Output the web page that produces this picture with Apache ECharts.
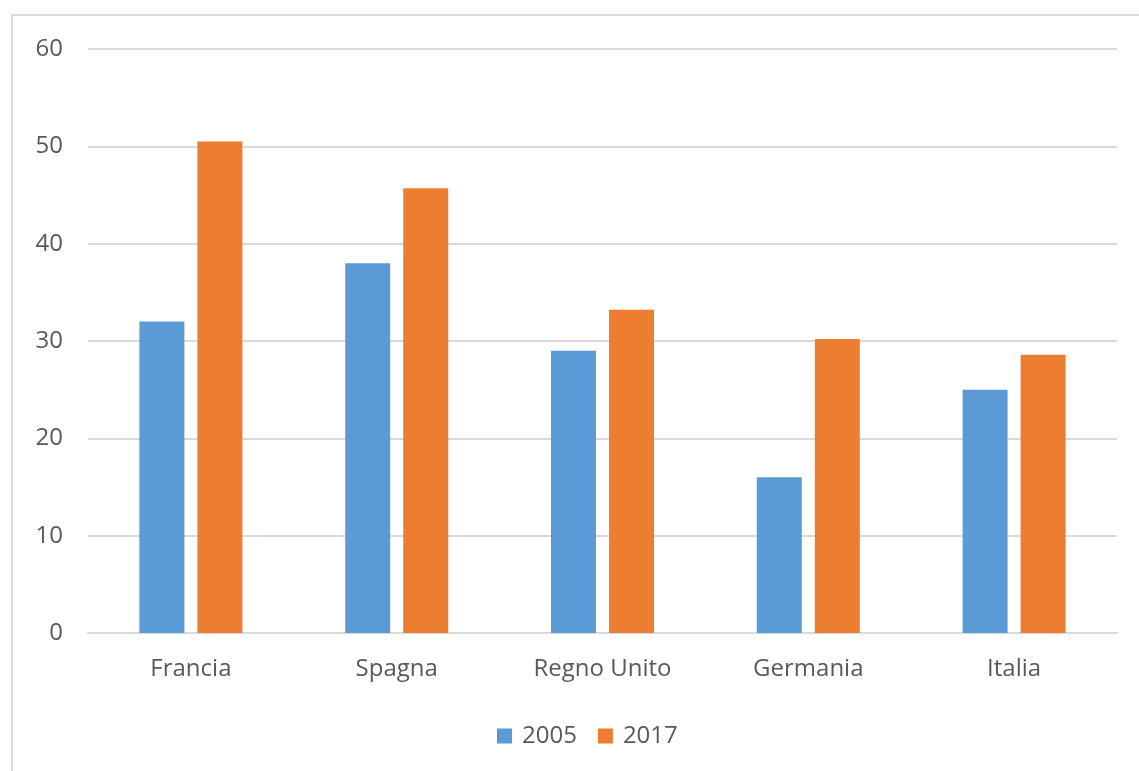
<!DOCTYPE html>
<html><head><meta charset="utf-8">
<script src="https://cdn.jsdelivr.net/npm/echarts@6/dist/echarts.min.js"></script>
<style>html,body{margin:0;padding:0;background:#fff}#c{width:1139px;height:771px}</style>
</head><body><div id="c"></div>
<script>
const categories = ['Francia', 'Spagna', 'Regno Unito', 'Germania', 'Italia'];
const values2005 = [32, 38, 29, 16, 25];
const values2017 = [50.5, 45.7, 33.2, 30.2, 28.6];
const seriesNames = ['2005', '2017'];

const chart = echarts.init(document.getElementById('c'), null, {renderer: 'canvas'});
const font = '"Open Sans", sans-serif';
chart.setOption({
  animation: false,
  backgroundColor: '#fff',
  graphic: [{
    type: 'polyline',
    shape: {points: [[12, 790], [12, 15], [1160, 15]]},
    style: {stroke: '#d9d9d9', lineWidth: 2, fill: null}
  }],
  grid: {left: 88, right: 22, top: 49, bottom: 138, containLabel: false},
  legend: {
    data: seriesNames,
    top: 719,
    left: 492,
    itemWidth: 15, itemHeight: 15, itemGap: 21,
    icon: 'rect',
    textStyle: {fontFamily: font, fontSize: 24, color: '#595959', padding: [0, 0, 0, 5]}
  },
  xAxis: {
    type: 'category',
    data: categories,
    axisTick: {show: false},
    axisLine: {lineStyle: {color: '#d9d9d9', width: 2}},
    axisLabel: {fontFamily: font, fontSize: 24, color: '#595959', margin: 24}
  },
  yAxis: {
    type: 'value',
    min: 0, max: 60, interval: 10,
    axisLine: {show: false},
    axisTick: {show: false},
    splitLine: {lineStyle: {color: '#d9d9d9', width: 2}},
    axisLabel: {fontFamily: font, fontSize: 24, color: '#595959', margin: 25}
  },
  series: [
    {name: seriesNames[0], type: 'bar', data: values2005, barWidth: 45, barGap: '29%', itemStyle: {color: '#5B9BD5'}},
    {name: seriesNames[1], type: 'bar', data: values2017, barWidth: 45, barGap: '29%', itemStyle: {color: '#ED7D31'}}
  ]
});
</script></body></html>
